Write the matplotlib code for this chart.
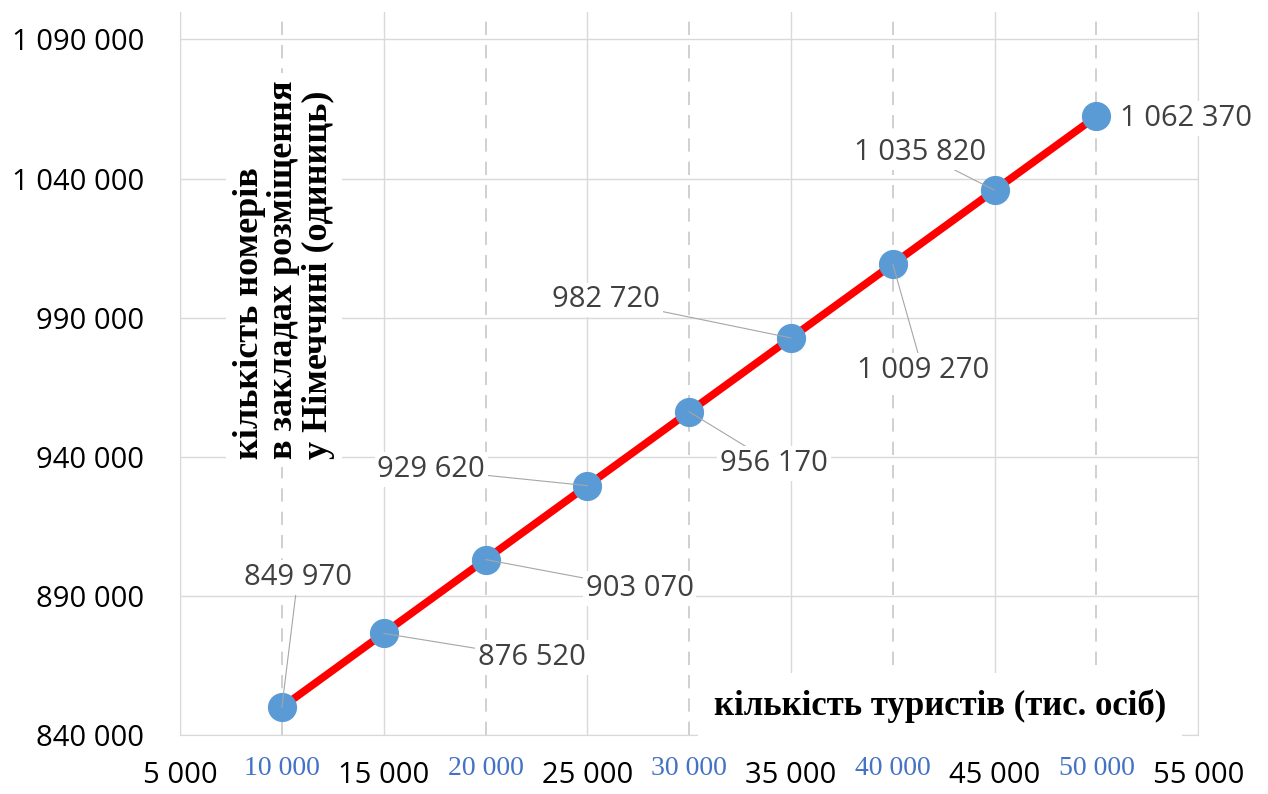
import matplotlib.pyplot as plt

# кількість туристів (тис. осіб) і кількість номерів
tourists = [10000, 15000, 20000, 25000, 30000, 35000, 40000, 45000, 50000]
rooms = [849970, 876520, 903070, 929620, 956170, 982720, 1009270, 1035820, 1062370]

x_major = [5000, 15000, 25000, 35000, 45000, 55000]
x_minor = [10000, 20000, 30000, 40000, 50000]
y_ticks = [840000, 890000, 940000, 990000, 1040000, 1090000]

# зсув підписів від точок (пікселі)
label_offsets = [(16, 130), (148, -24), (154, -29), (-156, 16), (85, -52),
                 (-185, 38), (30, -106), (-75, 38), (90, -2)]


def fmt(v):
    return f"{v:,}".replace(",", " ")


sans = "Open Sans"
serif = "Liberation Serif"

fig = plt.figure(figsize=(12.68, 7.94), dpi=100)
ax = fig.add_axes([0.142, 0.0743, 0.803, 0.911])

ax.set_xlim(5000, 55000)
ax.set_ylim(840000, 1100000)

grid_c = "#d9d9d9"
ax.set_xticks(x_major)
ax.set_xticklabels([fmt(v) for v in x_major], fontfamily=sans, fontsize=21)
ax.set_xticks(x_minor, minor=True)
ax.set_xticklabels([fmt(v) for v in x_minor], minor=True,
                   fontfamily=serif, fontsize=20, color="#4472c4")
ax.set_yticks(y_ticks)
ax.set_yticklabels([fmt(v) for v in y_ticks], fontfamily=sans, fontsize=21)
ax.tick_params(axis="x", which="major", length=0, pad=19)
ax.tick_params(axis="x", which="minor", length=0, pad=15)
ax.tick_params(axis="y", length=0, pad=26)

ax.grid(True, which="major", color=grid_c, linewidth=1)
ax.grid(True, which="minor", axis="x", color="#c8c8c8", linewidth=1.2,
        linestyle=(0, (8, 6)))
ax.set_axisbelow(True)
for side in ["left", "bottom", "right"]:
    ax.spines[side].set_color(grid_c)
ax.spines["top"].set_visible(False)

ax.plot(tourists, rooms, color="#ff0000", linewidth=5.5, zorder=3)
ax.plot(tourists, rooms, "o", color="#5b9bd5", markersize=20, zorder=4)

for x, y, (dx, dy) in zip(tourists, rooms, label_offsets):
    # короткі зсуви - без виносної лінії
    arrow = None
    if abs(dy) > 10:
        arrow = dict(arrowstyle="-", color="#a6a6a6", lw=0.8,
                     shrinkA=0, shrinkB=0)
    ax.annotate(fmt(y), xy=(x, y), xytext=(dx, dy), textcoords="offset pixels",
                ha="center", va="center", fontfamily=sans, fontsize=21,
                color="#404040", zorder=5,
                bbox=dict(boxstyle="square,pad=0.1", fc="white", ec="none"),
                arrowprops=arrow)

# підписи осей всередині області графіка
fig.text(940 / 1268, 1 - 706 / 794, "кількість туристів (тис. осіб)",
         fontfamily=serif, fontweight="bold", fontsize=25, ha="center",
         va="center", zorder=6,
         bbox=dict(boxstyle="square,pad=0.45", fc="white", ec="none"))
fig.text(284 / 1268, 1 - 270 / 794,
         "кількість номерів\nв закладах розміщення\nу Німеччині (одиниць)",
         rotation=90, fontfamily=serif, fontweight="bold", fontsize=26,
         ha="center", va="center", multialignment="left", linespacing=1.05,
         zorder=6, bbox=dict(boxstyle="square,pad=0.2", fc="white", ec="none"))

fig.savefig("out.png", dpi=100)
